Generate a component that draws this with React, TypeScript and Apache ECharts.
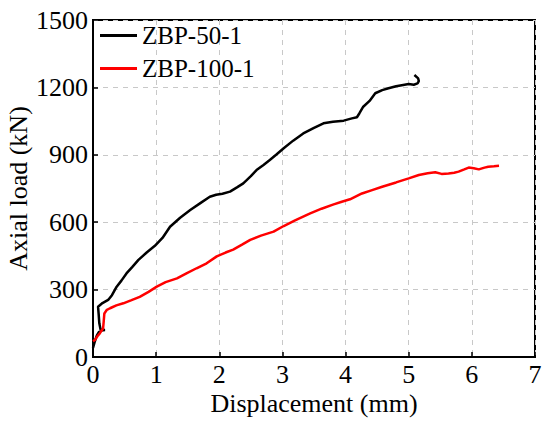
import React, { useEffect, useRef } from "react";
import * as echarts from "echarts";

const xTicks = [0, 1, 2, 3, 4, 5, 6, 7];
const yTicks = [0, 300, 600, 900, 1200, 1500];

const seriesNames = ["ZBP-50-1", "ZBP-100-1"];
const seriesColors = ["#000000", "#ff0000"];

// ZBP-50-1: [displacement (mm), axial load (kN)]
const zbp50: number[][] = [
  [0.0, 40], [0.03, 70], [0.06, 95], [0.09, 110], [0.13, 118], [0.19, 120],
  [0.12, 122], [0.1, 150], [0.09, 190], [0.08, 224], [0.15, 240], [0.24, 254],
  [0.3, 275], [0.375, 313], [0.45, 340], [0.53, 372], [0.62, 400], [0.72, 432],
  [0.85, 465], [0.98, 495], [1.1, 530], [1.22, 580], [1.38, 620], [1.54, 654],
  [1.7, 685], [1.85, 713], [1.95, 722], [2.05, 727], [2.17, 736], [2.28, 755],
  [2.38, 773], [2.5, 805], [2.59, 832], [2.7, 855], [2.8, 877], [2.9, 900],
  [3.02, 929], [3.17, 963], [3.33, 995], [3.5, 1020], [3.65, 1040], [3.8, 1047],
  [3.97, 1052], [4.1, 1062], [4.18, 1067], [4.22, 1085], [4.28, 1114], [4.38, 1140],
  [4.47, 1174], [4.58, 1188], [4.68, 1196], [4.8, 1205], [4.89, 1210], [5.0, 1215],
  [5.08, 1212], [5.14, 1218], [5.16, 1228], [5.15, 1240], [5.09, 1255],
];

// ZBP-100-1: [displacement (mm), axial load (kN)]
const zbp100: number[][] = [
  [0.0, 70], [0.03, 76], [0.07, 92], [0.11, 106], [0.16, 128], [0.17, 160],
  [0.18, 194], [0.22, 210], [0.27, 217], [0.37, 230], [0.48, 239], [0.6, 252],
  [0.74, 268], [0.88, 290], [1.01, 313], [1.15, 333], [1.33, 350], [1.48, 372],
  [1.64, 395], [1.8, 417], [1.96, 448], [2.1, 465], [2.22, 478], [2.36, 500],
  [2.49, 521], [2.66, 540], [2.86, 558], [3.02, 583], [3.2, 608], [3.44, 639],
  [3.62, 660], [3.8, 678], [3.94, 691], [4.07, 702], [4.26, 728], [4.42, 743],
  [4.58, 758], [4.8, 777], [5.0, 795], [5.16, 810], [5.3, 818], [5.42, 822],
  [5.52, 815], [5.63, 817], [5.72, 820], [5.79, 825], [5.88, 835], [5.95, 843],
  [6.03, 840], [6.11, 835], [6.2, 843], [6.26, 847], [6.35, 849], [6.43, 851],
];

const FONT = "'Liberation Serif', 'Times New Roman', serif";

export default function App() {
  const ref = useRef<HTMLDivElement>(null);
  useEffect(() => {
    if (!ref.current) return;
    const chart = echarts.init(ref.current, undefined, { renderer: "svg" });
    const axisCommon = {
      axisLine: { show: true, onZero: false, lineStyle: { color: "#000", width: 2 } },
      axisTick: { show: true, inside: true, length: 5, lineStyle: { color: "#000", width: 1.5 } },
      splitLine: { show: true, lineStyle: { color: "#c8c8c8", width: 1, type: [5, 5] } },
      axisLabel: { color: "#000", fontSize: 26, fontFamily: FONT, formatter: (v: number) => String(v) },
      nameTextStyle: { color: "#000", fontSize: 26, fontFamily: FONT },
      nameMoveOverlap: false,
    };
    chart.setOption({
      animation: false,
      backgroundColor: "#fff",
      grid: {
        left: 93, right: 15, top: 20, bottom: 64,
        containLabel: false,
        outerBoundsMode: "none",
        show: true, borderColor: "#000", borderWidth: 2, backgroundColor: "transparent",
      },
      legend: {
        data: seriesNames,
        orient: "vertical",
        left: 100,
        top: 23,
        padding: 0,
        itemGap: 8,
        itemWidth: 37,
        itemHeight: 3,
        icon: "rect",
        textStyle: { color: "#000", fontSize: 25, fontFamily: FONT, lineHeight: 25 },
      },
      xAxis: {
        type: "value",
        min: xTicks[0],
        max: xTicks[xTicks.length - 1],
        interval: 1,
        name: "Displacement (mm)",
        nameLocation: "middle",
        nameGap: 33,
        ...axisCommon,
        axisLabel: { ...axisCommon.axisLabel, margin: 4 },
      },
      yAxis: {
        type: "value",
        min: yTicks[0],
        max: yTicks[yTicks.length - 1],
        interval: 300,
        name: "Axial load (kN)",
        nameLocation: "middle",
        nameGap: 62,
        ...axisCommon,
        axisLabel: { ...axisCommon.axisLabel, margin: 5 },
      },
      series: [
        {
          name: seriesNames[0],
          type: "line",
          data: zbp50,
          showSymbol: false,
          lineStyle: { color: seriesColors[0], width: 2.5 },
          itemStyle: { color: seriesColors[0] },
        },
        {
          name: seriesNames[1],
          type: "line",
          data: zbp100,
          showSymbol: false,
          lineStyle: { color: seriesColors[1], width: 2.5 },
          itemStyle: { color: seriesColors[1] },
        },
      ],
    });
    return () => chart.dispose();
  }, []);
  return <div ref={ref} style={{ width: 550, height: 421, position: "absolute", left: 0, top: 0 }} />;
}
